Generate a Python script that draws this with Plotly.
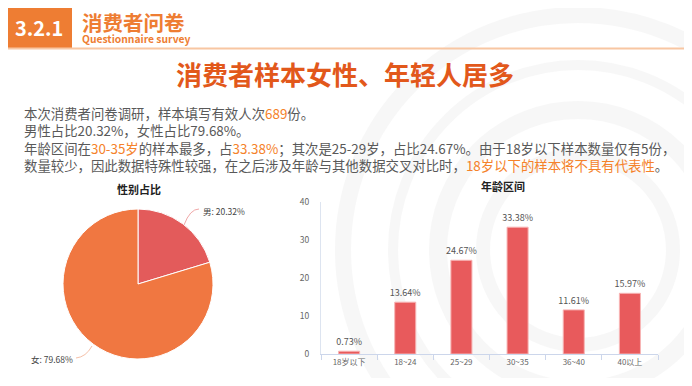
import plotly.graph_objects as go

# page has an 8px body margin; figure sized to fit the 692x386 window
OFF = 8
W, H = 692 - 2 * OFF, 386 - 2 * OFF

# ---- data ----
gender_labels = ["男", "女"]
gender_values = [20.32, 79.68]
gender_colors = ["#E35B5B", "#F07741"]

age_labels = ["18岁以下", "18~24", "25~29", "30~35", "36~40", "40以上"]
age_values = [0.73, 13.64, 24.67, 33.38, 11.61, 15.97]
age_ticks = [0, 10, 20, 30, 40]

FONT = "Noto Sans CJK SC"
ORANGE = "#EE7D33"
HL = "#F5822A"
TXT = "#595959"


def px(x):
    return (x - OFF) / W


def py(y):
    return 1 - (y - OFF) / H


fig = go.Figure()

# pie
fig.add_trace(go.Pie(
    labels=gender_labels, values=gender_values, sort=False,
    direction="clockwise", rotation=0,
    marker=dict(colors=gender_colors, line=dict(color="white", width=1)),
    textinfo="none", hoverinfo="label+value", showlegend=False,
    automargin=False,
    domain=dict(x=[px(63), px(213)], y=[py(359), py(209)]),
))

# bars
fig.add_trace(go.Bar(
    x=age_labels, y=age_values, width=0.375,
    marker=dict(color="#E85A5C", line=dict(color="#F7B5B5", width=1)),
    texttemplate="%{y:.2f}%", textposition="outside", constraintext="none",
    textfont=dict(family=FONT, size=9, color="#555555"),
    cliponaxis=False, showlegend=False,
))

shapes = []
# faint background watermark circles
cx, cy = 578, 250
for r, w in [(95, 14), (140, 18), (185, 10), (235, 16)]:
    shapes.append(dict(type="circle", xref="paper", yref="paper", layer="below",
                       x0=px(cx - r), x1=px(cx + r), y0=py(cy + r), y1=py(cy - r),
                       line=dict(color="rgba(240,240,240,0.5)", width=w)))
# header box and line
shapes.append(dict(type="rect", xref="paper", yref="paper",
                   x0=px(6), x1=px(72), y0=py(48), y1=py(5),
                   fillcolor=ORANGE, line=dict(width=0)))
shapes.append(dict(type="line", xref="paper", yref="paper",
                   x0=0, x1=1, y0=py(48.5), y1=py(48.5),
                   line=dict(color="#F8C6A2", width=2)))
# pie leader lines
shapes.append(dict(type="path", xref="paper", yref="paper",
                   path=f"M {px(184)} {py(225)} Q {px(190)} {py(209)} {px(199)} {py(209)}",
                   line=dict(color="#F0A8A8", width=1)))
shapes.append(dict(type="path", xref="paper", yref="paper",
                   path=f"M {px(92)} {py(346)} Q {px(86)} {py(357)} {px(76)} {py(358)}",
                   line=dict(color="#F5C0A8", width=1)))

ann = []


def add_text(x, y, text, size, color, bold=False, xanchor="left", yanchor="middle", align="left"):
    ann.append(dict(xref="paper", yref="paper", x=px(x), y=py(y), text=(f"<b>{text}</b>" if bold else text),
                    showarrow=False, xanchor=xanchor, yanchor=yanchor, align=align, borderpad=0,
                    font=dict(family=FONT, size=size, color=color)))


add_text(39, 27, "3.2.1", 20, "white", bold=True, xanchor="center")
add_text(81, 22, "消费者问卷", 20.5, ORANGE, bold=True)
add_text(81, 38.5, "Questionnaire survey", 10.3, ORANGE, bold=True)
add_text(345, 74, "消费者样本女性、年轻人居多", 26, "#E2581B", bold=True, xanchor="center")


def hl(s):
    return f"<span style='color:{HL}'>{s}</span>"


lines = [
    "本次消费者问卷调研，样本填写有效人次" + hl("689") + "份。",
    "男性占比20.32%，女性占比79.68%。",
    "年龄区间在" + hl("30-35岁") + "的样本最多，占" + hl("33.38%") + "；其次是25-29岁，占比24.67%。由于18岁以下样本数量仅有5份，",
    "数量较少，因此数据特殊性较强，在之后涉及年龄与其他数据交叉对比时，" + hl("18岁以下的样本将不具有代表性") + "。",
]
add_text(23, 138.5, "<br>".join(lines), 13.4, TXT)

add_text(139, 189, "性别占比", 11, "#222222", bold=True, xanchor="center")
add_text(503, 186, "年龄区间", 11, "#222222", bold=True, xanchor="center")
add_text(202, 211, f"{gender_labels[0]}: {gender_values[0]:.2f}%", 8.5, "#444444")
add_text(74, 359, f"{gender_labels[1]}: {gender_values[1]:.2f}%", 8.5, "#444444", xanchor="right")

fig.update_layout(
    width=W, height=H, margin=dict(l=0, r=0, t=0, b=0, autoexpand=False),
    paper_bgcolor="white", plot_bgcolor="rgba(0,0,0,0)",
    shapes=shapes, annotations=ann,
    xaxis=dict(domain=[px(321), px(658)], showline=True, linecolor="#CCD6EB", automargin=False,
               ticks="outside", tickson="boundaries", tickcolor="#CCD6EB", ticklen=5,
               tickfont=dict(family=FONT, size=8, color="#666666"), showgrid=False),
    yaxis=dict(domain=[py(354), py(202)], range=[0, 40], tickvals=age_ticks, automargin=False,
               showline=True, linecolor="#DDE4F0", showgrid=False, zeroline=False,
               ticks="", ticklabelstandoff=9,
               tickfont=dict(family=FONT, size=8.5, color="#666666")),
)

fig.write_html("out.html")
